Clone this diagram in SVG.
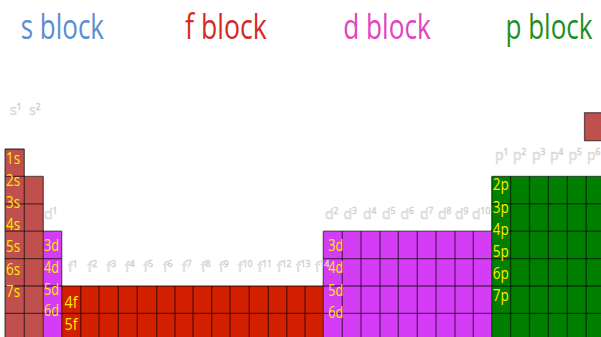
<svg xmlns="http://www.w3.org/2000/svg" width="601" height="337" viewBox="0 0 601 337">
<style>
.title{font-family:"Open Sans","Liberation Sans",sans-serif;font-size:26.5px}
.lab{font-family:"Open Sans","Liberation Sans",sans-serif;font-size:16px;fill:#ffeb00}
.sup{font-family:"Open Sans","Liberation Sans",sans-serif;font-size:14px;fill:#f6f6f6;stroke:#cdcdcd;stroke-width:0.5}
.sup tspan{font-size:8.5px}
.grid{fill:none;stroke:#000;stroke-opacity:0.55;stroke-width:1.3}
</style>
<rect width="601" height="337" fill="#ffffff"/>
<g id="titles" transform="translate(0,39.3) scale(1,1.3)">
<text class="title" x="20.7" y="0" fill="#5b8fcf" textLength="83.3" lengthAdjust="spacingAndGlyphs">s block</text>
<text class="title" x="185" y="0" fill="#d42b1e" textLength="81.7" lengthAdjust="spacingAndGlyphs">f block</text>
<text class="title" x="343.3" y="0" fill="#e046c0" textLength="87.4" lengthAdjust="spacingAndGlyphs">d block</text>
<text class="title" x="505.5" y="0" fill="#1f8f1f" textLength="87" lengthAdjust="spacingAndGlyphs">p block</text>
</g>
<g id="s-block">
<path d="M5,149 H24.3 V176.4 H43.3 V341 H5 Z" fill="#c0504d"/>
<rect x="584.5" y="112.7" width="20" height="28" fill="#c0504d" stroke="#000" stroke-opacity="0.55" stroke-width="1.3"/>
</g>
<g id="d-column">
<rect x="43.3" y="231.2" width="18.4" height="110" fill="#d53cf5"/>
</g>
<g id="f-block">
<rect x="61.7" y="286" width="261.6" height="55" fill="#d21f00"/>
</g>
<g id="d-block">
<rect x="323.3" y="231.2" width="168.4" height="110" fill="#d53cf5"/>
</g>
<g id="p-block">
<rect x="491.7" y="176.4" width="115" height="165" fill="#007f00"/>
</g>
<g id="grid-lines" class="grid">
<path class="grid" d="M5,149 H24.3 M5,176.4 H43.3 M491.7,176.4 H601 M5,203.8 H43.3 M491.7,203.8 H601 M5,231.2 H61.7 M323.3,231.2 H601 M5,258.6 H61.7 M323.3,258.6 H601 M5,286 H601 M5,313.4 H601"/>
<path class="grid" d="M5,149 V341 M24.3,149 V341 M43.3,176.4 V341 M61.7,231.2 V341 M323.3,231.2 V341 M491.7,176.4 V341"/>
<path class="grid" d="M80.7,286 V341 M99,286 V341 M118.3,286 V341 M137.3,286 V341 M156.7,286 V341 M175,286 V341 M193,286 V341 M211.7,286 V341 M230,286 V341 M249.3,286 V341 M268.3,286 V341 M286.7,286 V341 M305,286 V341"/>
<path class="grid" d="M342.3,231.2 V341 M361,231.2 V341 M380,231.2 V341 M398.3,231.2 V341 M417.3,231.2 V341 M436,231.2 V341 M455,231.2 V341 M473.3,231.2 V341"/>
<path class="grid" d="M510.6,176.4 V341 M529.5,176.4 V341 M548.4,176.4 V341 M567.3,176.4 V341 M586.2,176.4 V341"/>
</g>
<g id="shell-labels">
<text class="lab" x="6" y="164" textLength="14" lengthAdjust="spacingAndGlyphs">1s</text>
<text class="lab" x="6" y="186" textLength="14" lengthAdjust="spacingAndGlyphs">2s</text>
<text class="lab" x="6" y="207.5" textLength="14" lengthAdjust="spacingAndGlyphs">3s</text>
<text class="lab" x="6" y="229.5" textLength="14" lengthAdjust="spacingAndGlyphs">4s</text>
<text class="lab" x="6" y="252" textLength="14" lengthAdjust="spacingAndGlyphs">5s</text>
<text class="lab" x="6" y="274.5" textLength="14" lengthAdjust="spacingAndGlyphs">6s</text>
<text class="lab" x="6" y="297" textLength="14" lengthAdjust="spacingAndGlyphs">7s</text>
<text class="lab" x="44" y="251" textLength="15" lengthAdjust="spacingAndGlyphs">3d</text>
<text class="lab" x="44" y="273" textLength="15" lengthAdjust="spacingAndGlyphs">4d</text>
<text class="lab" x="44" y="294.5" textLength="15" lengthAdjust="spacingAndGlyphs">5d</text>
<text class="lab" x="44" y="316" textLength="15" lengthAdjust="spacingAndGlyphs">6d</text>
<text class="lab" x="64.5" y="307.5" textLength="13" lengthAdjust="spacingAndGlyphs">4f</text>
<text class="lab" x="64.5" y="329.5" textLength="13" lengthAdjust="spacingAndGlyphs">5f</text>
<text class="lab" x="328.3" y="251" textLength="15" lengthAdjust="spacingAndGlyphs">3d</text>
<text class="lab" x="328.3" y="273" textLength="15" lengthAdjust="spacingAndGlyphs">4d</text>
<text class="lab" x="328.3" y="295.5" textLength="15" lengthAdjust="spacingAndGlyphs">5d</text>
<text class="lab" x="328.3" y="317.5" textLength="15" lengthAdjust="spacingAndGlyphs">6d</text>
<text class="lab" x="492.7" y="190" textLength="16" lengthAdjust="spacingAndGlyphs">2p</text>
<text class="lab" x="492.7" y="213" textLength="16" lengthAdjust="spacingAndGlyphs">3p</text>
<text class="lab" x="492.7" y="235" textLength="16" lengthAdjust="spacingAndGlyphs">4p</text>
<text class="lab" x="492.7" y="257" textLength="16" lengthAdjust="spacingAndGlyphs">5p</text>
<text class="lab" x="492.7" y="279" textLength="16" lengthAdjust="spacingAndGlyphs">6p</text>
<text class="lab" x="492.7" y="301" textLength="16" lengthAdjust="spacingAndGlyphs">7p</text>
</g>
<g id="electron-labels">
<text class="sup" x="10" y="115">s<tspan dy="-5">1</tspan></text>
<text class="sup" x="29" y="115">s<tspan dy="-5">2</tspan></text>
<text class="sup" x="44" y="219">d<tspan dy="-5">1</tspan></text>
<text class="sup" x="68" y="272">f<tspan dy="-5">1</tspan></text>
<text class="sup" x="87.5" y="272">f<tspan dy="-5">2</tspan></text>
<text class="sup" x="106.5" y="272">f<tspan dy="-5">3</tspan></text>
<text class="sup" x="125" y="272">f<tspan dy="-5">4</tspan></text>
<text class="sup" x="143.5" y="272">f<tspan dy="-5">5</tspan></text>
<text class="sup" x="163" y="272">f<tspan dy="-5">6</tspan></text>
<text class="sup" x="182" y="272">f<tspan dy="-5">7</tspan></text>
<text class="sup" x="201" y="272">f<tspan dy="-5">8</tspan></text>
<text class="sup" x="219" y="272">f<tspan dy="-5">9</tspan></text>
<text class="sup" x="238" y="272">f<tspan dy="-5">10</tspan></text>
<text class="sup" x="257.5" y="272">f<tspan dy="-5">11</tspan></text>
<text class="sup" x="277" y="272">f<tspan dy="-5">12</tspan></text>
<text class="sup" x="296" y="272">f<tspan dy="-5">13</tspan></text>
<text class="sup" x="315" y="272">f<tspan dy="-5">14</tspan></text>
<text class="sup" x="325" y="219">d<tspan dy="-5">2</tspan></text>
<text class="sup" x="343.5" y="219">d<tspan dy="-5">3</tspan></text>
<text class="sup" x="363" y="219">d<tspan dy="-5">4</tspan></text>
<text class="sup" x="382" y="219">d<tspan dy="-5">5</tspan></text>
<text class="sup" x="400.5" y="219">d<tspan dy="-5">6</tspan></text>
<text class="sup" x="420" y="219">d<tspan dy="-5">7</tspan></text>
<text class="sup" x="438" y="219">d<tspan dy="-5">8</tspan></text>
<text class="sup" x="455" y="219">d<tspan dy="-5">9</tspan></text>
<text class="sup" x="472" y="219">d<tspan dy="-5">10</tspan></text>
<text class="sup" x="495" y="160">p<tspan dy="-5">1</tspan></text>
<text class="sup" x="513" y="160">p<tspan dy="-5">2</tspan></text>
<text class="sup" x="532" y="160">p<tspan dy="-5">3</tspan></text>
<text class="sup" x="550" y="160">p<tspan dy="-5">4</tspan></text>
<text class="sup" x="568.5" y="160">p<tspan dy="-5">5</tspan></text>
<text class="sup" x="587" y="160">p<tspan dy="-5">6</tspan></text>
</g>
</svg>
